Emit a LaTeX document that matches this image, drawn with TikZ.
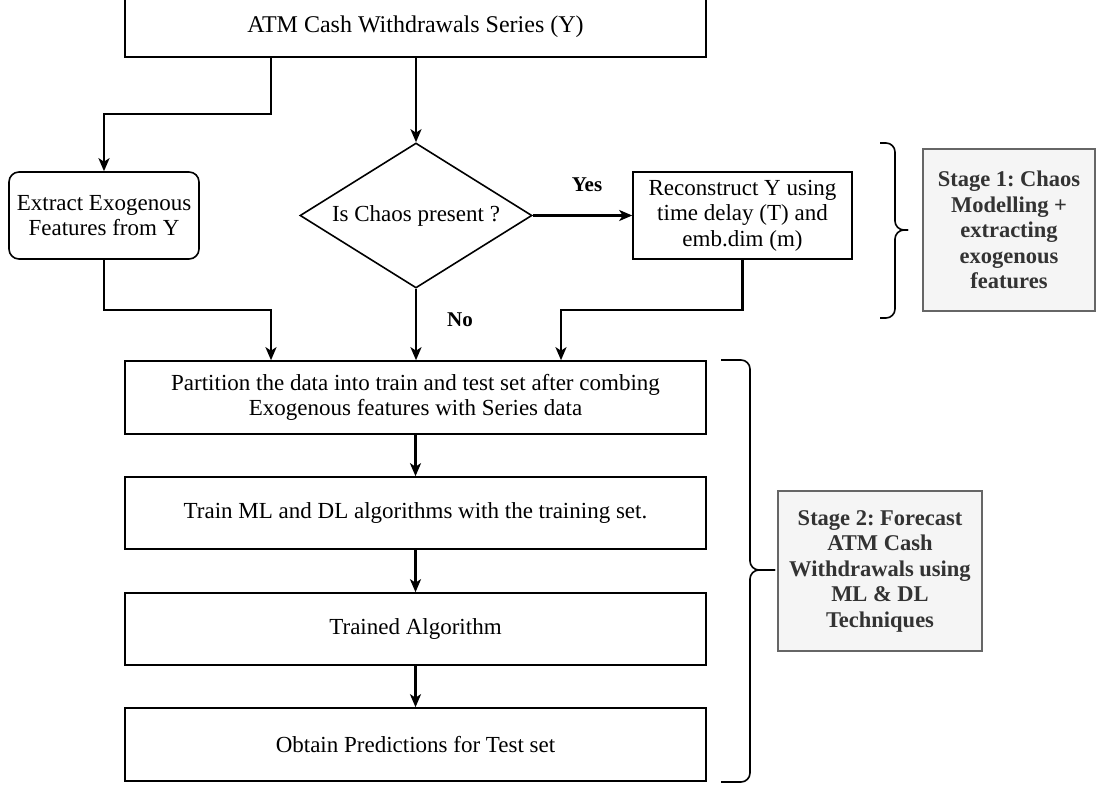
\documentclass[tikz,border=0pt]{standalone}
\usepackage{fontspec}
\setmainfont{Liberation Serif}
\usetikzlibrary{shapes.geometric,arrows.meta}
\definecolor{stageborder}{HTML}{666666}
\definecolor{stagefill}{HTML}{F5F5F5}
\definecolor{stagetext}{HTML}{333333}
\frenchspacing
\begin{document}
\begin{tikzpicture}[x=1pt,y=-1pt,
  box/.style={draw=black, line width=1.6pt, fill=white, inner sep=0pt, align=center,
              font=\fontsize{23}{25.5}\selectfont},
  arr/.style={line width=2.2pt, -{Stealth[length=13pt,width=11pt,inset=3.5pt]}},
  lbl/.style={font=\fontsize{21}{24}\selectfont\bfseries, inner sep=0pt},
  stagebox/.style={draw=stageborder, fill=stagefill, line width=1.5pt, align=center,
              text=stagetext, font=\fontsize{22.5}{25.5}\selectfont\bfseries, inner sep=0pt},
  bracestyle/.style={line width=1.6pt, rounded corners=9pt}]
\useasboundingbox (0,0) rectangle (1096,786);

% nodes
\node[box, minimum width=581pt, minimum height=60pt, font=\fontsize{24}{26}\selectfont] (atm) at (415.5,27) {ATM Cash Withdrawals Series (Y)};
\node[box, rounded corners=10pt, minimum width=190pt, minimum height=87pt] (extract) at (104,215.5) {Extract Exogenous\\Features from Y};
\node[box, diamond, aspect=1.6, minimum width=232pt, minimum height=145pt] (chaos) at (416,215.5) {Is Chaos present ?};
\node[box, minimum width=219pt, minimum height=87pt] (recon) at (742.5,215.5) {Reconstruct Y using\\time delay (T) and\\emb.dim (m)};
\node[box, minimum width=581pt, minimum height=73pt] (part) at (415.5,397.5) {Partition the data into train and test set after combing\\Exogenous features with Series data};
\node[box, minimum width=581pt, minimum height=72pt] (train) at (415.5,513) {Train ML and DL algorithms with the training set.};
\node[box, minimum width=581pt, minimum height=72pt] (trained) at (415.5,629) {Trained Algorithm};
\node[box, minimum width=581pt, minimum height=73pt] (obtain) at (415.5,744.5) {Obtain Predictions for Test set};

\node[stagebox, minimum width=172pt, minimum height=162pt] (s1) at (1009,230) {Stage 1: Chaos\\Modelling +\\extracting\\exogenous\\features};
\node[stagebox, minimum width=204pt, minimum height=160pt] (s2) at (880,571) {Stage 2: Forecast\\ATM Cash\\Withdrawals using\\ML \& DL\\Techniques};

% connectors
\coordinate (c1) at (271,114);
\coordinate (c2) at (104,114);
\coordinate (c3) at (271,310);
\coordinate (c4) at (561,310);
\draw[arr] (atm.south -| c1) -- (c1) -- (c2) -- (extract.north);
\draw[arr] (atm.south -| chaos.north) -- (chaos.north);
\draw[arr] (chaos.east) -- (recon.west);
\draw[arr] (chaos.south) -- (chaos.south |- part.north);
\draw[arr] (extract.south) -- (extract.south |- c3) -- (c3) -- (c3 |- part.north);
\draw[arr] (recon.south) -- (recon.south |- c4) -- (c4) -- (c4 |- part.north);
\draw[arr] (part) -- (train);
\draw[arr] (train) -- (trained);
\draw[arr] (trained) -- (obtain);

\node[lbl] (yes) at (587,185) {Yes};
\node[lbl] (no) at (460,320) {No};

% braces
\draw[bracestyle] (880,143) -- (895,143) -- (895,230) -- (908,230);
\draw[bracestyle] (880,318) -- (895,318) -- (895,230) -- (908,230);
\draw[bracestyle] (721,360) -- (750,360) -- (750,570) -- (775,570);
\draw[bracestyle] (721,782) -- (750,782) -- (750,570) -- (775,570);
\end{tikzpicture}
\end{document}
